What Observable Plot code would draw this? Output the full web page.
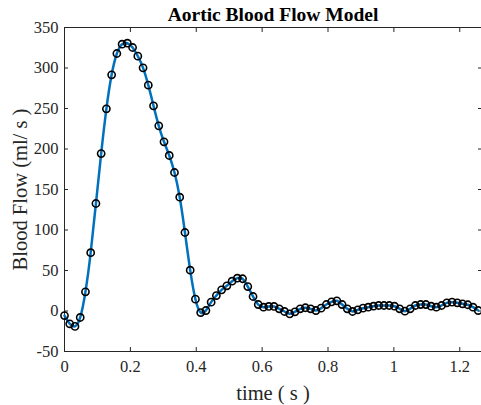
<!DOCTYPE html>
<html>
<head>
<meta charset="utf-8">
<script src="https://cdn.jsdelivr.net/npm/d3@7"></script>
<script src="https://cdn.jsdelivr.net/npm/@observablehq/plot@0.6"></script>
<style>
  html, body { margin: 0; padding: 0; background: #fff; overflow: hidden; }
</style>
</head>
<body>
<div id="chart"></div>
<script>
const titleText = "Aortic Blood Flow Model";
const xLabel = "time ( s )";
const yLabel = "Blood Flow (ml/ s )";
const dt = 0.0159;
const flow = [
  -5.6, -15.8, -19, -8, 23.7, 72, 132.7, 194.4, 249.6, 291.6,
  317.9, 329.4, 330.6, 325.3, 314.6, 300.2, 278.8, 253.3, 228.6, 208.9,
  192, 171, 140.5, 96.9, 50.4, 14.6, -1.9, 0.6, 10.9, 19.1,
  26.1, 31.1, 36.8, 40.5, 39.8, 30.2, 17.9, 8, 4.7, 5.6,
  5.6, 2.7, -0.6, -3.5, -1, 2.7, 4, 2.7, 0.6, 3.5,
  8, 11.3, 12.6, 8, 2.7, -0.6, 1.5, 3.5, 4.7, 5.9,
  6.8, 6.8, 6.8, 5.9, 2.7, -0.2, 2.7, 6.8, 8, 8,
  5.9, 4.7, 6.8, 10.1, 10.9, 10.1, 8.9, 7.7, 4.7, 0.6
];
const xTicks = [0, 0.2, 0.4, 0.6, 0.8, 1, 1.2];
const yTicks = [-50, 0, 50, 100, 150, 200, 250, 300, 350];

const data = flow.map((v, i) => ({t: i * dt, v}));
const axisColor = "#262626";
const font = "'Liberation Serif', 'Times New Roman', serif";

const chart = Plot.plot({
  width: 481,
  height: 405,
  marginLeft: 64,
  marginRight: 0,
  marginTop: 27,
  marginBottom: 54,
  style: {fontFamily: font, background: "#fff", overflow: "visible"},
  x: {domain: [0, 1.266], label: null},
  y: {domain: [-50, 350], label: null},
  marks: [
    Plot.ruleX([0], {stroke: axisColor, strokeWidth: 1}),
    Plot.ruleY([-50, 350], {stroke: axisColor, strokeWidth: 1}),
    Plot.axisX({ticks: xTicks, tickSize: 0, tickPadding: 9, fontSize: 16.5, fill: axisColor,
      tickFormat: d => String(d), label: null}),
    Plot.axisX({ticks: xTicks, anchor: "bottom", tickSize: -4, tickFormat: () => "", stroke: axisColor, label: null}),
    Plot.axisX({ticks: xTicks, anchor: "top", tickSize: -4, tickFormat: () => "", stroke: axisColor, label: null}),
    Plot.axisY({ticks: yTicks, tickSize: 0, tickPadding: 6, fontSize: 16.5, fill: axisColor,
      tickFormat: d => String(d), label: null}),
    Plot.axisY({ticks: yTicks, anchor: "left", tickSize: -4, tickFormat: () => "", stroke: axisColor, label: null}),
    Plot.axisY({ticks: yTicks, anchor: "right", tickSize: -4, tickFormat: () => "", stroke: axisColor, label: null}),
    Plot.line(data, {x: "t", y: "v", stroke: "#0072BD", strokeWidth: 2.5, curve: "natural"}),
    Plot.dot(data, {x: "t", y: "v", r: 3.6, stroke: "#000", strokeWidth: 1.6, fill: "none"}),
    Plot.text([titleText], {frameAnchor: "top", dy: -13, lineAnchor: "middle", fontSize: 19.5,
      fontWeight: "bold", fill: "#000", text: d => d}),
    Plot.text([xLabel], {frameAnchor: "bottom", dy: 42, lineAnchor: "middle", fontSize: 20.5,
      fill: axisColor, text: d => d}),
    Plot.text([yLabel], {frameAnchor: "left", dx: -44, rotate: -90, textAnchor: "middle", lineAnchor: "middle", fontSize: 20.5,
      fill: axisColor, text: d => d})
  ]
});
document.getElementById("chart").appendChild(chart);
</script>
</body>
</html>
